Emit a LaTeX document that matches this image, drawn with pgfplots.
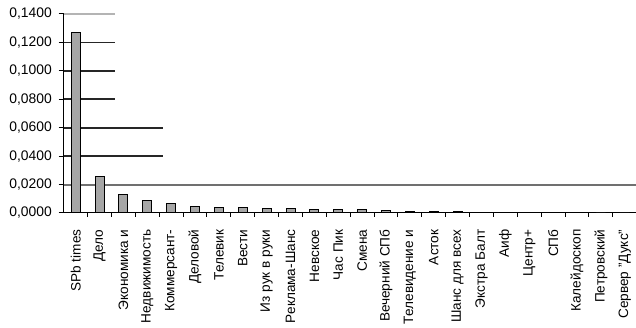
\documentclass[border=0pt]{standalone}
\usepackage{fontspec}
\setmainfont{Liberation Sans}
\usepackage{pgfplots}
\pgfplotsset{compat=1.18}
\usepackage{pgfplotstable}
\definecolor{barfill}{HTML}{A6A6A6}
\definecolor{gridd}{HTML}{262626}
\definecolor{gridm}{HTML}{707070}
\definecolor{gridl}{HTML}{B4B4B4}
\pgfplotstableread{
x y
0 0.1272
1 0.0257
2 0.0133
3 0.0090
4 0.0067
5 0.0047
6 0.0040
7 0.0040
8 0.0032
9 0.0032
10 0.0025
11 0.0023
12 0.0023
13 0.0016
14 0.0009
15 0.0009
16 0.0011
17 0.0005
18 0.0005
19 0.0005
20 0.0005
21 0.0005
22 0.0000
23 0.0000
}\datatable
\begin{document}
\begin{tikzpicture}
\begin{axis}[
  scale only axis,
  width=429.2pt, height=149.25pt,
  xmin=-0.5, xmax=23.47,
  ymin=0, ymax=0.14,
  axis lines*=left,
  axis line style={black, line width=0.75pt},
  ytick={0,0.02,0.04,0.06,0.08,0.10,0.12,0.14},
  /pgf/number format/fixed,
  /pgf/number format/fixed zerofill,
  /pgf/number format/precision=4,
  /pgf/number format/use comma,
  /pgf/number format/assume math mode=true,
  yticklabel style={font=\fontsize{10.4pt}{12pt}\selectfont, inner sep=0pt, xshift=-5pt},
  tick align=outside,
  major tick length=3.75pt,
  minor tick length=3pt,
  tick style={black, line width=0.75pt},
  xtick={0,...,23},
  xticklabels={SPb times, Дело, Экономика и, Недвижимость, Коммерсант-, Деловой, Телевик, Вести, Из рук в руки, Реклама-Шанс, Невское, Час Пик, Смена, Вечерний СПб, Телевидение и, Асток, Шанс для всех, Экстра Балт, Аиф, Центр+, СПб, Калейдоскоп, Петровский, {Сервер "Дукс"}},
  major x tick style={draw=none},
  minor x tick num=1,
  xticklabel style={rotate=90, anchor=east, inner sep=0pt, font=\fontsize{10.2pt}{12pt}\selectfont},
  xticklabel shift=8.5pt,
  clip=false,
]
\addplot[gridl, line width=1.2pt, forget plot] coordinates {(-0.5,0.14) (1.65,0.14)};
\addplot[gridd, line width=1.2pt, forget plot] coordinates {(-0.5,0.12) (1.65,0.12)};
\addplot[gridd, line width=1.2pt, forget plot] coordinates {(-0.5,0.10) (1.65,0.10)};
\addplot[gridd, line width=1.2pt, forget plot] coordinates {(-0.5,0.08) (1.65,0.08)};
\addplot[gridd, line width=1.2pt, forget plot] coordinates {(-0.5,0.06) (3.66,0.06)};
\addplot[gridd, line width=1.2pt, forget plot] coordinates {(-0.5,0.04) (3.66,0.04)};
\addplot[gridm, line width=1.5pt, forget plot] coordinates {(-0.5,0.02) (23.47,0.02)};
\addplot[ybar, bar width=0.38, fill=barfill, draw=black, line width=0.75pt] table[x=x, y=y] {\datatable};
\end{axis}
\pgfresetboundingbox
\useasboundingbox (current axis.south west) ++(-47.8pt,-86.25pt) rectangle ([shift={(429.2pt,159.75pt)}]current axis.south west);
\end{tikzpicture}
\end{document}
